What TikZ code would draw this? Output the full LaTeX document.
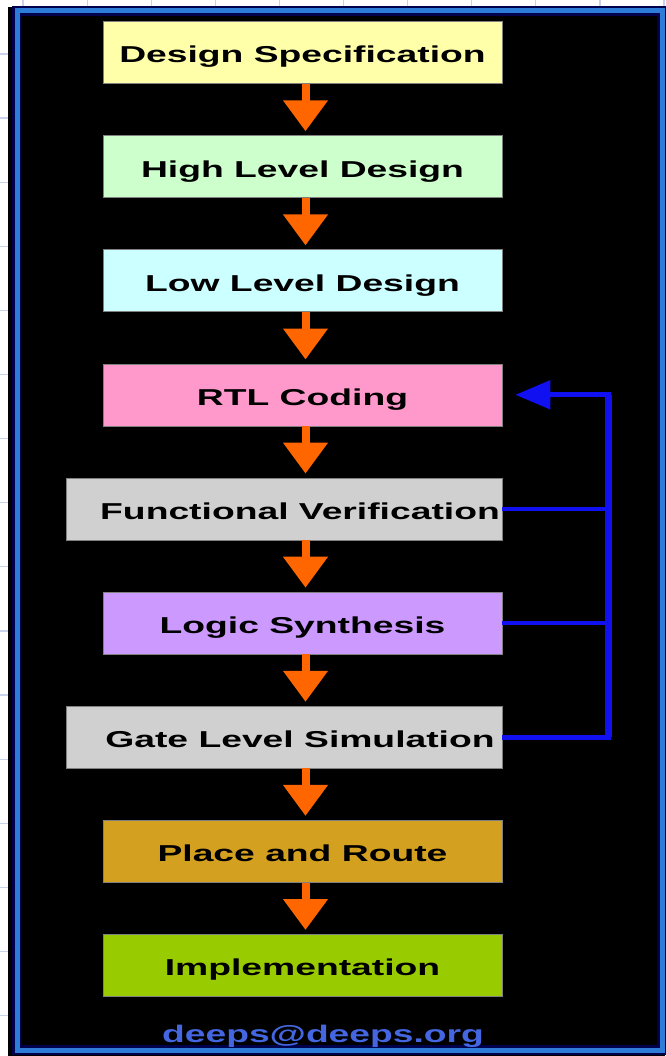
\documentclass[tikz,border=0pt]{standalone}
\usepackage{fontspec}
\setmainfont{Liberation Sans}
\usepackage{graphicx}
\usetikzlibrary{positioning,calc,arrows.meta}

\definecolor{specyellow}{HTML}{FFFFAA}
\definecolor{hlgreen}{HTML}{CCFFCC}
\definecolor{llcyan}{HTML}{CCFFFF}
\definecolor{rtlpink}{HTML}{FF99CC}
\definecolor{vergray}{HTML}{D0D0D0}
\definecolor{synlilac}{HTML}{CC99FF}
\definecolor{pnrgold}{HTML}{D4A020}
\definecolor{implime}{HTML}{99CC00}
\definecolor{floworange}{HTML}{FF6600}
\definecolor{loopblue}{HTML}{1010F0}
\definecolor{frameblue}{HTML}{2C7CD8}
\definecolor{mailblue}{HTML}{4466E0}
\definecolor{gridline}{HTML}{C9D3EE}

% label text, stretched wide; optional shift to the right
\newcommand{\stagetext}[2][0pt]{\makebox[0pt]{\hspace*{#1}\scalebox{1.62}[1]{#2}}}

\tikzset{
  stage/.style={draw=black!50, line width=0.6pt, minimum width=399pt, minimum height=62pt,
    inner sep=0pt, text height=24pt, text depth=3pt, font=\fontsize{23}{27}\selectfont\bfseries},
  widestage/.style={stage, minimum width=436pt},
  flow/.style={draw=floworange, line width=8pt, -{Triangle[width=43pt,length=31pt]}, shorten >=4pt},
  loop/.style={draw=loopblue, line width=5pt},
  grid/.style={draw=gridline, line width=1.2pt},
}

\begin{document}
\begin{tikzpicture}[x=1pt,y=-1pt]
\useasboundingbox (0,0) rectangle (665,1056);

% sheet grid and dark panel
\foreach \k in {0,...,10} \draw[grid] (23+64.1*\k,0) -- (23+64.1*\k,1056);
\foreach \k in {0,...,15} \draw[grid] (0,54+64.1*\k) -- (665,54+64.1*\k);
\fill[black] (8,7) rectangle (665,1056);
\draw[line width=10pt, blue!30!black] (17,11) rectangle (662,1050);
\draw[line width=5pt, frameblue] (17,11) rectangle (662,1050);

% nodes
\node[stage, fill=specyellow] (x1) at (302.5,52.5) {\stagetext{Design Specification}};
\node[stage, fill=hlgreen, below=51.5pt of x1.south east, anchor=north east] (x2) {\stagetext{High Level Design}};
\node[stage, fill=llcyan, below=51.5pt of x2.south east, anchor=north east] (x3) {\stagetext{Low Level Design}};
\node[stage, fill=rtlpink, below=51.5pt of x3.south east, anchor=north east] (x4) {\stagetext{RTL Coding}};
\node[widestage, fill=vergray, below=51.5pt of x4.south east, anchor=north east] (x5) {\stagetext[32pt]{Functional Verification}};
\node[stage, fill=synlilac, below=51.5pt of x5.south east, anchor=north east] (x6) {\stagetext{Logic Synthesis}};
\node[widestage, fill=vergray, below=51.5pt of x6.south east, anchor=north east] (x7) {\stagetext[32pt]{Gate Level Simulation}};
\node[stage, fill=pnrgold, below=51.5pt of x7.south east, anchor=north east] (x8) {\stagetext{Place and Route}};
\node[stage, fill=implime, below=51.5pt of x8.south east, anchor=north east] (x9) {\stagetext{Implementation}};

\node[anchor=base, text=mailblue, inner sep=0pt, font=\fontsize{24}{28}\selectfont\bfseries] (mail) at (323,1042) {\scalebox{1.55}[1]{deeps@deeps.org}};

% downward flow
\coordinate (mid) at ($(x1.south)+(3,0)$);
\foreach \i/\j in {1/2,2/3,3/4,4/5,5/6,6/7,7/8,8/9}
  \draw[flow] (mid |- x\i.south) -- (mid |- x\j.north);

% feedback loop back to RTL
\coordinate (bus) at ($(x4.east)+(106,0)$);
\draw[loop, line width=4pt] (x5.east) -- (x5.east -| bus);
\draw[loop, line width=4pt] (x6.east) -- (x6.east -| bus);
\draw[loop, -{Triangle[width=28pt,length=35pt]}, shorten >=13pt] (x7.east) -| (bus) -- (x4.east);
\draw[loop, line width=7pt] (x7.east -| bus) -- (bus);

\end{tikzpicture}
\end{document}
